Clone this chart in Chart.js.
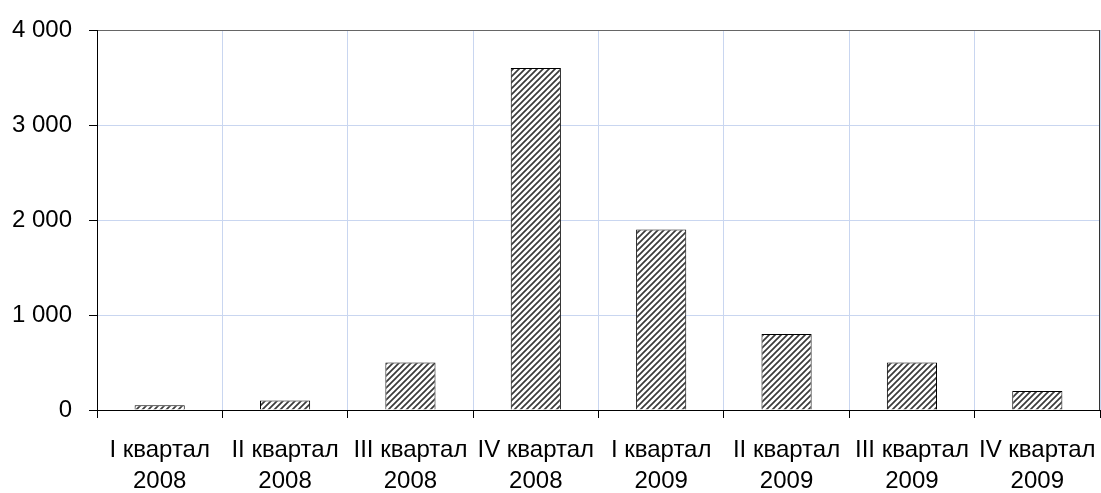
<!DOCTYPE html>
<html>
<head>
<meta charset="utf-8">
<script src="https://cdn.jsdelivr.net/npm/chart.js@4.4.1/dist/chart.umd.min.js"></script>
<style>
html,body{margin:0;padding:0;background:#fff;}
#wrap{width:1101px;height:493px;}
</style>
</head>
<body>
<div id="wrap"><canvas id="c" width="1101" height="493"></canvas></div>
<script>
const categories = [
  ["I квартал","2008"],["II квартал","2008"],["III квартал","2008"],["IV квартал","2008"],
  ["I квартал","2009"],["II квартал","2009"],["III квартал","2009"],["IV квартал","2009"]
];
const values = [50, 100, 500, 3600, 1900, 800, 500, 200];
const yTicks = [0, 1000, 2000, 3000, 4000];

function makeHatch(){
  const p = document.createElement('canvas');
  p.width = 6; p.height = 6;
  const g = p.getContext('2d');
  g.fillStyle = '#ffffff'; g.fillRect(0,0,6,6);
  g.strokeStyle = '#3a3a3a'; g.lineWidth = 1.7;
  g.beginPath();
  g.moveTo(-1,7); g.lineTo(7,-1);
  g.moveTo(-4,4); g.lineTo(4,-4);
  g.moveTo(2,10); g.lineTo(10,2);
  g.stroke();
  return document.getElementById('c').getContext('2d').createPattern(p,'repeat');
}

const FONT = "'Liberation Sans Narrow','Arial Narrow','Liberation Sans',Arial,sans-serif";

const borderPlugin = {
  id:'frame',
  afterDatasetsDraw(chart){
    const a = chart.chartArea, ctx = chart.ctx;
    ctx.save();
    ctx.strokeStyle = '#333';
    ctx.lineWidth = 1;
    ctx.beginPath();
    ctx.moveTo(Math.round(a.right)-0.5, a.top);
    ctx.lineTo(Math.round(a.right)-0.5, a.bottom);
    ctx.stroke();
    ctx.restore();
  }
};

new Chart(document.getElementById('c'), {
  type:'bar',
  data:{
    labels: categories,
    datasets:[{
      data: values,
      backgroundColor: makeHatch(),
      borderColor:'#000',
      borderWidth:1,
      categoryPercentage:1,
      barPercentage:0.4
    }]
  },
  options:{
    responsive:false,
    animation:false,
    layout:{padding:{top:30,right:1,left:0,bottom:0}},
    plugins:{legend:{display:false},tooltip:{enabled:false}},
    scales:{
      x:{
        offset:true,
        grid:{offset:true,color:'#c9d6f0',lineWidth:1,tickLength:8,tickColor:'#000',drawTicks:true},
        border:{color:'#000',width:1},
        ticks:{color:'#000',font:{family:FONT,size:24,lineHeight:1.3},padding:17,maxRotation:0,autoSkip:false},
        afterFit(s){ s.height = 83; s.paddingLeft = 0; s.paddingRight = 0; }
      },
      y:{
        min:0,max:4000,
        afterBuildTicks(s){ s.ticks = yTicks.map(v=>({value:v})); },
        grid:{color:(c)=> c.tick && c.tick.value===4000 ? '#666' : '#c9d6f0',lineWidth:1,tickLength:8,tickColor:'#000'},
        border:{color:'#000',width:1},
        ticks:{color:'#000',font:{family:FONT,size:24},padding:17,
          callback:(v)=> String(v).replace(/\B(?=(\d{3})+(?!\d))/g,' ')},
        afterFit(s){ s.width = 97; s.paddingTop = 0; s.paddingBottom = 0; }
      }
    }
  },
  plugins:[borderPlugin]
});
</script>
</body>
</html>
